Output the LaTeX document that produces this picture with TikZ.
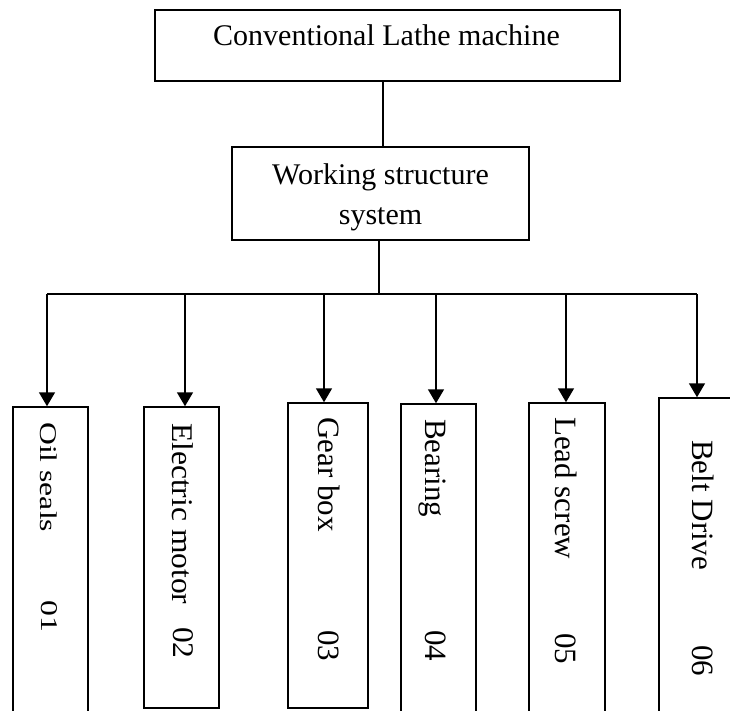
\documentclass[tikz,border=0pt]{standalone}
\usepackage{fontspec}
\setmainfont{Liberation Serif}
\usetikzlibrary{arrows.meta}
\begin{document}
\begin{tikzpicture}[x=1pt,y=-1pt,
  box/.style={draw=black, line width=1.5pt, rectangle, inner sep=0pt},
  link/.style={draw=black, line width=1.7pt},
  arrowlink/.style={link, -{Triangle[width=16pt,length=14pt]}},
  caption/.style={font=\fontsize{30}{40}\selectfont, inner sep=0pt, anchor=base},
  vtext/.style={rotate=-90, anchor=base west, inner sep=0pt},
  vbig/.style={vtext, font=\fontsize{31}{31}\selectfont}]
\useasboundingbox (0,0) rectangle (730,711);

% upper boxes
\node[box, minimum width=465pt, minimum height=71pt] (lathe) at (387.5,45.5) {};
\node[caption] (lathetext) at (386.5,46) {Conventional Lathe machine};
\node[box, minimum width=297pt, minimum height=93pt] (work) at (380.5,193.5) {};
\node[caption] (worktextA) at (380.5,185) {Working structure};
\node[caption] (worktextB) at (380.5,225) {system};

% component boxes
\node[box, minimum width=75pt, minimum height=333pt] (b1) at (50.5,573.5) {};
\node[box, minimum width=75pt, minimum height=301pt] (b2) at (181.5,557.5) {};
\node[box, minimum width=80pt, minimum height=305pt] (b3) at (328,555.5) {};
\node[box, minimum width=75pt, minimum height=336pt] (b4) at (438.5,572) {};
\node[box, minimum width=76pt, minimum height=337pt] (b5) at (567,571.5) {};
\node[box, minimum width=86pt, minimum height=342pt] (b6) at (702,569) {};

% connector points
\coordinate (c0) at (383,0);
\coordinate (c1) at (379,0);
\coordinate (bus) at (379,294);
\coordinate (d1) at (47,294);
\coordinate (d2) at (185,294);
\coordinate (d3) at (324,294);
\coordinate (d4) at (436,294);
\coordinate (d5) at (566,294);
\coordinate (d6) at (697,294);

\draw[link] (lathe.south -| c0) -- (work.north -| c0);
\draw[link] (work.south -| c1) -- (bus);
\draw[link] (d1) -- (d6);
\foreach \i in {1,...,6}{
  \draw[arrowlink] (d\i) -- (d\i |- b\i.north);
}

% component labels
\node[vtext, font=\fontsize{24}{24}\selectfont] (n1) at (40,422) {\scalebox{1.32}[1]{Oil seals}};
\node[vtext, font=\fontsize{24}{24}\selectfont] (k1) at (41,600) {\scalebox{1.32}[1]{01}};
\node[vtext, font=\fontsize{30}{30}\selectfont] (n2) at (172,423) {\scalebox{1.05}[1]{Electric motor}};
\node[vtext, font=\fontsize{30}{30}\selectfont] (k2) at (173,627) {\scalebox{1.05}[1]{02}};
\node[vbig] (n3) at (318,417) {Gear box};
\node[vbig] (k3) at (318,630) {03};
\node[vbig] (n4) at (425,419) {Bearing};
\node[vbig] (k4) at (425,630) {04};
\node[vbig] (n5) at (555,417) {Lead screw};
\node[vbig] (k5) at (555,633) {05};
\node[vbig] (n6) at (692,440) {Belt Drive};
\node[vbig] (k6) at (692,645) {06};
\end{tikzpicture}
\end{document}
